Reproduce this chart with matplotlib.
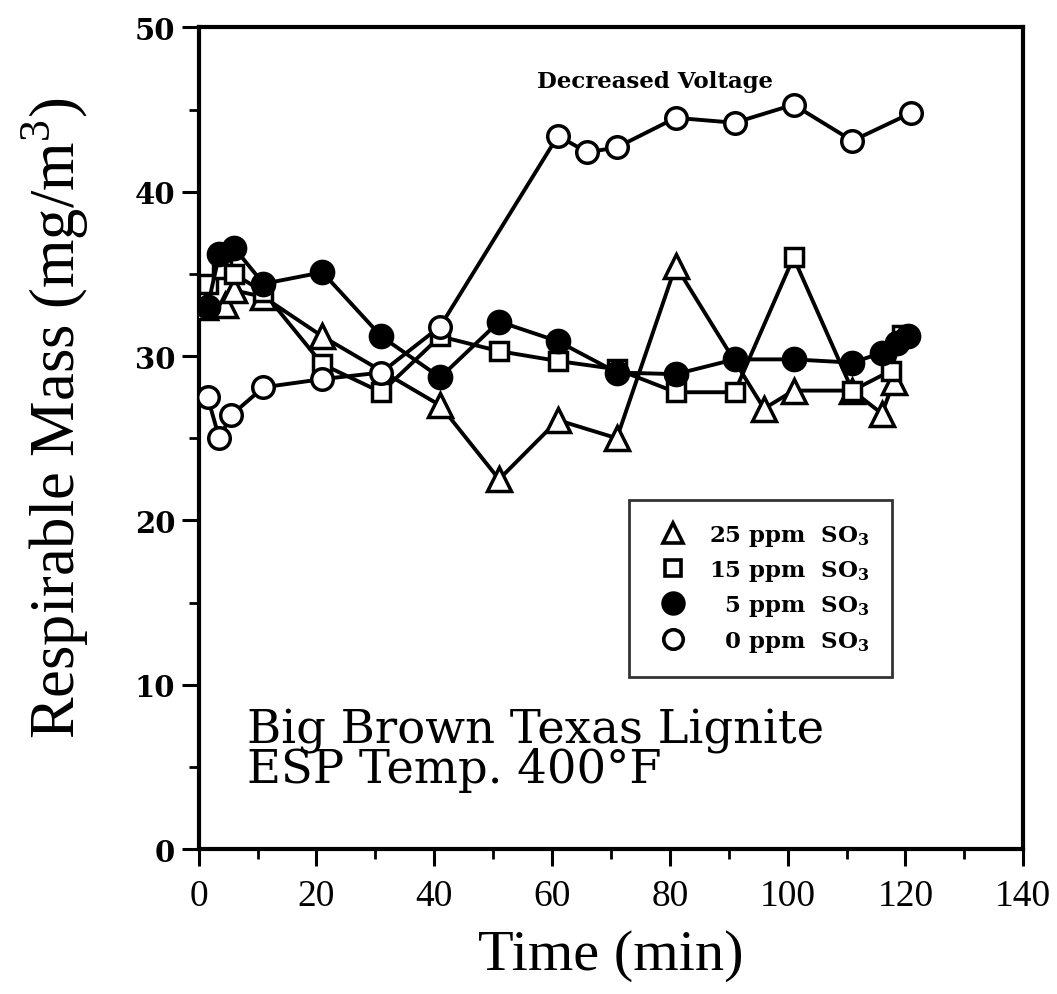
import matplotlib
matplotlib.use("Agg")
import matplotlib.pyplot as plt
from matplotlib.lines import Line2D

plt.rcParams["mathtext.fontset"] = "custom"
plt.rcParams["mathtext.rm"] = "Liberation Serif"
plt.rcParams["mathtext.bf"] = "DejaVu Serif:bold"

# 25 ppm SO3 (open triangles)
t25 = [1, 4.5, 6, 11, 21, 41, 51, 61, 71, 81, 96, 101, 111, 116, 118]
m25 = [33.0, 33.1, 34.0, 33.6, 31.2, 27.0, 22.5, 26.1, 25.0, 35.5, 26.8, 27.9, 27.9, 26.5, 28.4]
# 15 ppm SO3 (open squares)
t15 = [1.5, 4, 6, 11, 21, 31, 41, 51, 61, 71, 81, 91, 101, 111, 117.5, 119.5]
m15 = [34.4, 35.3, 35.0, 33.9, 29.5, 27.8, 31.2, 30.3, 29.7, 29.2, 27.8, 27.8, 36.0, 27.9, 29.1, 31.3]
# 5 ppm SO3 (filled circles)
t5 = [1.5, 3.5, 6, 11, 21, 31, 41, 51, 61, 71, 81, 91, 101, 111, 116, 118.5, 120.5]
m5 = [33.0, 36.2, 36.6, 34.4, 35.1, 31.2, 28.7, 32.1, 30.9, 29.0, 28.9, 29.8, 29.8, 29.6, 30.2, 30.8, 31.2]
# 0 ppm SO3 (open circles)
t0 = [1.5, 3.5, 5.5, 11, 21, 31, 41, 61, 66, 71, 81, 91, 101, 111, 121]
m0 = [27.5, 25.0, 26.4, 28.1, 28.6, 29.0, 31.8, 43.4, 42.4, 42.7, 44.5, 44.2, 45.3, 43.1, 44.8]

fig = plt.figure(figsize=(10.57, 9.95), dpi=100)
ax = fig.add_axes([0.188, 0.1457, 0.780, 0.8257])

lw = 2.8
mew = 2.5
ax.plot(t25, m25, "-^", color="black", lw=lw, ms=17, mew=mew, mfc="white", mec="black", zorder=3)
ax.plot(t15, m15, "-s", color="black", lw=lw, ms=13, mew=mew, mfc="white", mec="black", zorder=3)
ax.plot(t5, m5, "-o", color="black", lw=lw, ms=16, mew=mew, mfc="black", mec="black", zorder=4)
ax.plot(t0, m0, "-o", color="black", lw=lw, ms=15.5, mew=mew, mfc="white", mec="black", zorder=3)

ax.set_xlim(0, 140)
ax.set_ylim(0, 50)
ax.set_xticks(range(0, 141, 20))
ax.set_xticks(range(10, 140, 20), minor=True)
ax.set_yticks(range(0, 51, 10))
ax.set_yticks(range(5, 50, 10), minor=True)
for s in ax.spines.values():
    s.set_linewidth(3)
ax.tick_params(which="major", direction="out", length=12, width=2.2)
ax.tick_params(which="minor", direction="out", length=7, width=2.0)
ax.tick_params(axis="x", which="major", pad=9)
ax.tick_params(axis="y", which="major", pad=5)

for lab in ax.get_xticklabels():
    lab.set_fontfamily("Liberation Serif")
    lab.set_fontsize(27)
for lab in ax.get_yticklabels():
    lab.set_fontfamily("DejaVu Serif")
    lab.set_fontweight("bold")
    lab.set_fontsize(21)

ax.set_xlabel("Time (min)", family="Liberation Serif", fontsize=42, labelpad=12)
ax.set_ylabel(r"Respirable Mass (mg/m$^{3}$)", family="Liberation Serif", fontsize=45)
ax.yaxis.set_label_coords(-0.131, 0.525)

ax.text(77.5, 46.1, "Decreased Voltage", family="DejaVu Serif", weight="bold",
        fontsize=16.5, ha="center", va="bottom")
ax.text(8.2, 8.6, "Big Brown Texas Lignite\nESP Temp. 400\u00b0F", family="DejaVu Serif",
        fontsize=33.5, ha="left", va="top", linespacing=0.82)

handles = [
    Line2D([], [], ls="none", marker="^", ms=15, mew=2.6, mfc="white", mec="black"),
    Line2D([], [], ls="none", marker="s", ms=12, mew=2.6, mfc="white", mec="black"),
    Line2D([], [], ls="none", marker="o", ms=15, mew=2.6, mfc="black", mec="black"),
    Line2D([], [], ls="none", marker="o", ms=14, mew=2.6, mfc="white", mec="black"),
]
labels = [r"25 ppm  SO$_\mathbf{3}$", r"15 ppm  SO$_\mathbf{3}$",
          "\u20075 ppm  SO$_\\mathbf{3}$", "\u20070 ppm  SO$_\\mathbf{3}$"]
leg = ax.legend(handles, labels, loc="center",
                bbox_to_anchor=((71.2 + 119.6) / 2 / 140, (21.1 + 10.65) / 2 / 50),
                frameon=True, fancybox=False, edgecolor="black", borderpad=1.0,
                handlelength=1.9, handletextpad=0.6, labelspacing=0.45, borderaxespad=0,
                prop={"family": "DejaVu Serif", "weight": "bold", "size": 16.5})
leg.get_frame().set_linewidth(2.0)

fig.savefig("out.png", dpi=100)
